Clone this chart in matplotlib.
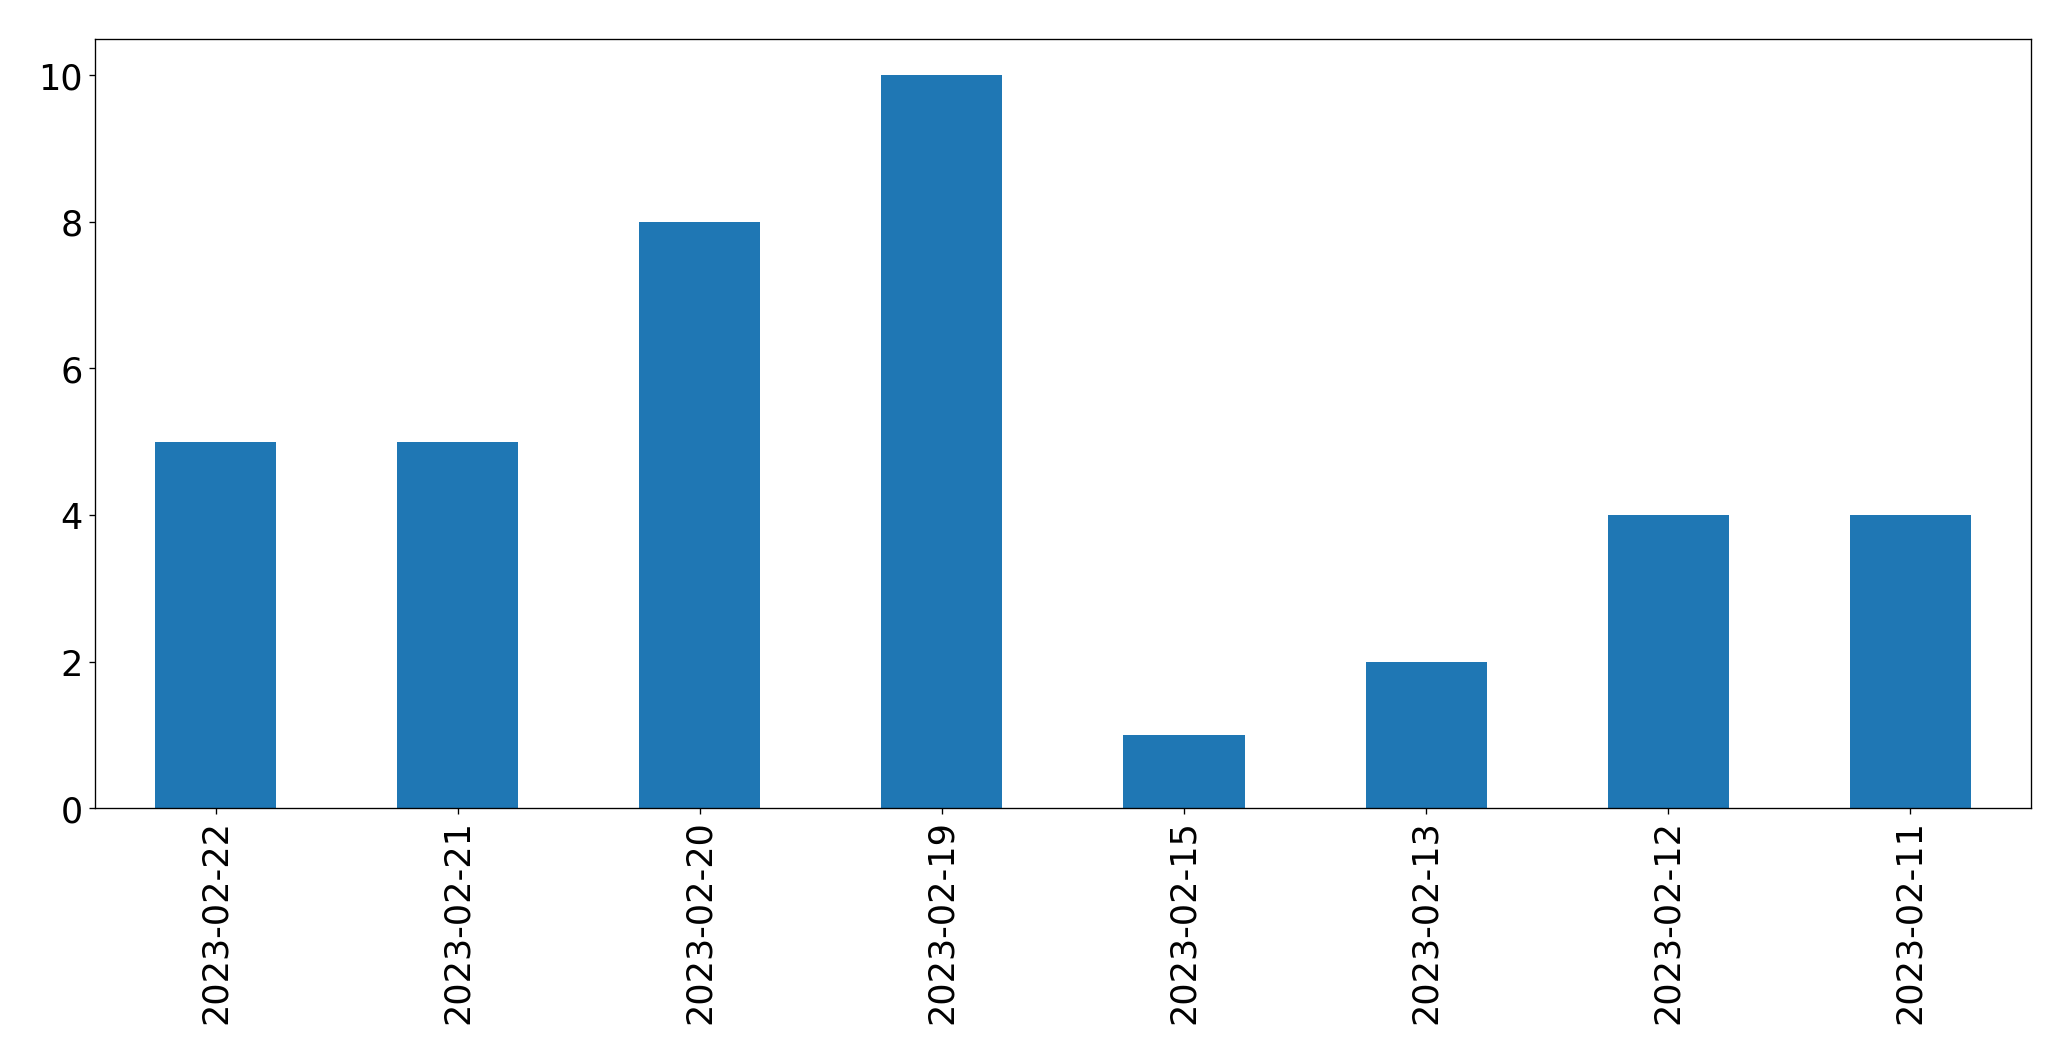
import matplotlib
matplotlib.use('Agg')
import matplotlib.pyplot as plt
import pandas as pd

# daily counts, newest first
dates = ['2023-02-22', '2023-02-21', '2023-02-20', '2023-02-19',
         '2023-02-15', '2023-02-13', '2023-02-12', '2023-02-11']
counts = [5, 5, 8, 10, 1, 2, 4, 4]

series = pd.Series(counts, index=dates)

DPI = 120
fig, ax = plt.subplots(figsize=(2070.6 / DPI, 1060.6 / DPI), dpi=DPI)
series.plot(kind='bar', ax=ax, color='#1f77b4', width=0.5, fontsize=21)
ax.tick_params(axis='x', labelrotation=90)

fig.subplots_adjust(left=0.0457, right=0.981, top=0.963, bottom=0.2375)
plt.savefig('out.png', dpi=DPI)
plt.close()
